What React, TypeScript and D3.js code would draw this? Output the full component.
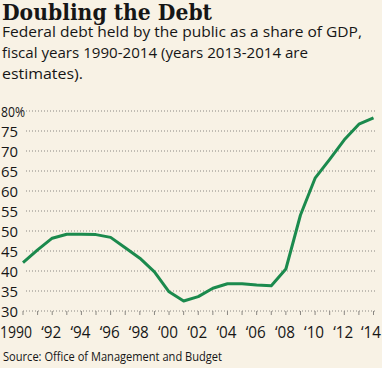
import React from 'react'
import * as d3 from 'd3'

const width = 382
const height = 368

// share of GDP (2013-2014 are estimates)
const years = [
  1990, 1991, 1992, 1993, 1994, 1995, 1996, 1997, 1998, 1999, 2000, 2001, 2002,
  2003, 2004, 2005, 2006, 2007, 2008, 2009, 2010, 2011, 2012, 2013, 2014,
]
const debtShare = [
  42.1, 45.3, 48.2, 49.2, 49.2, 49.1, 48.4, 45.8, 43.2, 39.8, 34.8, 32.5, 33.6,
  35.7, 36.8, 36.8, 36.5, 36.3, 40.5, 54.0, 63.2, 67.9, 72.8, 76.7, 78.3,
]
const yTicks = [30, 35, 40, 45, 50, 55, 60, 65, 70, 75, 80]
const xLabelYears = [1990, 1992, 1994, 1996, 1998, 2000, 2002, 2004, 2006, 2008, 2010, 2012, 2014]

const subtitleLines = [
  'Federal debt held by the public as a share of GDP,',
  'fiscal years 1990-2014 (years 2013-2014 are',
  'estimates).',
]

const colors = {
  background: '#f8f2e5',
  line: '#1b8a4d',
  grid: '#8a8782',
  text: '#161616',
}

const sans = "'Open Sans', 'Noto Sans', sans-serif"

const plot = { left: 23, right: 373.5, top: 111, bottom: 311, gridStart: 26, gridEnd: 375 }

const yearLabel = (yr: number) => (yr === 1990 ? '1990' : '\u2018' + String(yr).slice(2))

export default function App() {
  const x = d3.scaleLinear().domain([1990, 2014]).range([plot.left, plot.right])
  const y = d3.scaleLinear().domain([30, 80]).range([plot.bottom, plot.top])

  const line = d3
    .line<number>()
    .x((d, i) => x(years[i]))
    .y((d) => y(d))
    .curve(d3.curveLinear)

  return (
    <svg
      width={width}
      height={height}
      style={{ position: 'absolute', left: 0, top: 0, display: 'block' }}
    >
      <rect x={0} y={0} width={width} height={height} fill={colors.background} />

      <text
        x={2}
        y={19.5}
        fontFamily="'DejaVu Serif', serif"
        fontWeight="bold"
        fontSize={21.5}
        fill={colors.text}
        textLength={210}
        lengthAdjust="spacingAndGlyphs"
      >
        Doubling the Debt
      </text>

      {subtitleLines.map((t, i) => (
        <text
          key={'sub-' + i}
          x={2}
          y={36.5 + i * 21}
          fontFamily={sans}
          fontSize={14.5}
          fontWeight={500}
          fill={colors.text}
          textLength={i === 0 ? 360 : i === 1 ? 306 : 81}
          lengthAdjust="spacingAndGlyphs"
        >
          {t}
        </text>
      ))}

      {/* gridlines */}
      {yTicks
        .filter((t) => t !== 30)
        .map((t) => (
          <line
            key={'grid-' + t}
            x1={plot.gridStart}
            x2={plot.gridEnd}
            y1={y(t)}
            y2={y(t)}
            stroke={colors.grid}
            strokeWidth={1}
            strokeDasharray="1,2"
          />
        ))}

      {/* baseline axis */}
      <line
        x1={plot.left}
        x2={plot.gridEnd}
        y1={y(30)}
        y2={y(30)}
        stroke={colors.grid}
        strokeWidth={1}
        strokeDasharray="1,2"
      />
      {years.map((yr) => (
        <line
          key={'tick-' + yr}
          x1={x(yr)}
          x2={x(yr)}
          y1={y(30)}
          y2={y(30) + 4}
          stroke={colors.grid}
          strokeWidth={1}
        />
      ))}

      {yTicks.map((t) => (
        <text
          key={'ylab-' + t}
          x={1}
          y={y(t) + 5.5}
          fontFamily={sans}
          fontSize={15}
          fontWeight={500}
          fill={colors.text}
          textLength={t === 80 ? 24 : 17}
          lengthAdjust="spacingAndGlyphs"
        >
          {t === 80 ? '80%' : t}
        </text>
      ))}

      {xLabelYears.map((yr) => (
        <text
          key={'xlab-' + yr}
          x={yr === 1990 ? 0 : yr === 2014 ? 381 : x(yr) - 1}
          y={338}
          fontFamily={sans}
          fontSize={16}
          fontWeight={500}
          fill={colors.text}
          textAnchor={yr === 1990 ? 'start' : yr === 2014 ? 'end' : 'middle'}
          textLength={yr === 1990 ? 32 : 20}
          lengthAdjust="spacingAndGlyphs"
        >
          {yearLabel(yr)}
        </text>
      ))}

      <path d={line(debtShare) || ''} fill="none" stroke={colors.line} strokeWidth={3} strokeLinejoin="round" />

      <text
        x={3}
        y={361}
        fontFamily={sans}
        fontSize={12.5}
        fill={colors.text}
        textLength={219}
        lengthAdjust="spacingAndGlyphs"
      >
        Source: Office of Management and Budget
      </text>
    </svg>
  )
}
